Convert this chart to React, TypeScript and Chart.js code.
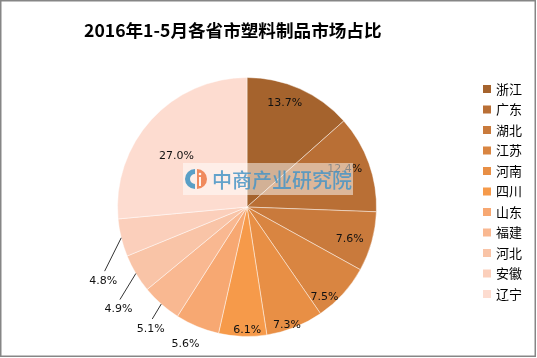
import { useEffect, useRef } from "react";
import { Chart, registerables } from "chart.js";

Chart.register(...registerables);

const provinces = ["浙江", "广东", "湖北", "江苏", "河南", "四川", "山东", "福建", "河北", "安徽", "辽宁"];
const shares = [13.7, 12.4, 7.6, 7.5, 7.3, 6.1, 5.6, 5.1, 4.9, 4.8, 27.0];
const sliceColors = [
  "#A5632D", "#B96F35", "#C97A3C", "#D98541", "#E88F45", "#F69A4A",
  "#F7A872", "#F9B891", "#F9C4A7", "#FBCFBB", "#FDDCD0",
];
const titleText = "2016年1-5月各省市塑料制品市场占比";
const watermarkText = "中商产业研究院";

const labelPlugin = {
  id: "sliceLabels",
  afterDatasetsDraw(chart: any, _args: any, opts: any) {
    const ctx = chart.ctx;
    const meta = chart.getDatasetMeta(0);
    const values = chart.data.datasets[0].data as number[];
    ctx.save();
    ctx.font = opts.font;
    ctx.fillStyle = opts.color;
    ctx.textAlign = "center";
    ctx.textBaseline = "middle";
    meta.data.forEach((arc: any, i: number) => {
      const p = arc.getProps(["x", "y", "startAngle", "endAngle", "outerRadius"], true);
      const mid = (p.startAngle + p.endAngle) / 2;
      const ang = mid + (opts.angleShift[i] * Math.PI) / 180;
      const r = p.outerRadius * opts.radius[i];
      const lx = p.x + Math.cos(ang) * r;
      const ly = p.y + Math.sin(ang) * r;
      if (opts.leader[i]) {
        ctx.beginPath();
        ctx.strokeStyle = "#333333";
        ctx.lineWidth = 1;
        ctx.moveTo(p.x + Math.cos(mid) * p.outerRadius, p.y + Math.sin(mid) * p.outerRadius);
        ctx.lineTo(lx + 1.5, ly - 10);
        ctx.stroke();
      }
      ctx.fillText(values[i].toFixed(1) + "%", lx, ly);
    });
    ctx.restore();
  },
};

const decorPlugin = {
  id: "decor",
  afterDraw(chart: any) {
    const ctx = chart.ctx;
    const labels = chart.data.labels as string[];
    const colors = chart.data.datasets[0].backgroundColor as string[];
    ctx.save();
    // watermark band
    ctx.fillStyle = "rgba(255,255,255,0.5)";
    ctx.fillRect(183, 163, 170, 32);
    // logo
    const cx = 196, cy = 179;
    ctx.fillStyle = "#5A9FC6";
    ctx.beginPath();
    ctx.arc(cx - 1, cy, 10, Math.PI / 2, (Math.PI * 3) / 2);
    ctx.arc(cx - 1, cy, 5, (Math.PI * 3) / 2, Math.PI / 2, true);
    ctx.closePath();
    ctx.fill();
    ctx.fillStyle = "#F08A5D";
    ctx.beginPath();
    ctx.arc(cx + 1, cy, 10, -Math.PI / 2, Math.PI / 2);
    ctx.closePath();
    ctx.fill();
    ctx.fillStyle = "rgba(255,255,255,0.9)";
    ctx.fillRect(cx + 3, cy - 2, 2, 9);
    ctx.beginPath();
    ctx.arc(cx + 4, cy - 5, 1.3, 0, Math.PI * 2);
    ctx.fill();
    ctx.font = "500 20px 'Noto Sans CJK SC'";
    ctx.fillStyle = "rgba(70,148,198,0.85)";
    ctx.textAlign = "left";
    ctx.textBaseline = "middle";
    ctx.fillText(watermarkText, 212, 180);

    // title
    ctx.font = "bold 17.6px 'Noto Sans CJK SC'";
    ctx.fillStyle = "#000000";
    ctx.textAlign = "left";
    ctx.textBaseline = "middle";
    ctx.fillText(titleText, 84, 30);

    // legend
    ctx.font = "13px 'Noto Sans CJK SC'";
    labels.forEach((lab, i) => {
      const y = 89 + i * 20.5;
      ctx.fillStyle = colors[i];
      ctx.fillRect(483, y - 4, 8, 8);
      ctx.fillStyle = "#000000";
      ctx.fillText(lab, 496, y);
    });

    // border
    ctx.strokeStyle = "#868686";
    ctx.lineWidth = 1.5;
    ctx.strokeRect(0.75, 0.75, 534.5, 355.5);
    ctx.restore();
  },
};

export default function App() {
  const ref = useRef<HTMLCanvasElement | null>(null);
  useEffect(() => {
    document.body.style.margin = "0";
    if (!ref.current) return;
    const chart = new Chart(ref.current, {
      type: "pie",
      data: {
        labels: provinces,
        datasets: [
          {
            data: shares,
            backgroundColor: sliceColors,
            borderColor: "rgba(255,255,255,0.45)",
            borderWidth: 1,
            hoverOffset: 0,
            offset: 0,
          },
        ],
      },
      options: {
        responsive: false,
        animation: false,
        devicePixelRatio: 1,
        layout: { padding: { top: 77, bottom: 21, left: 117, right: 160 } },
        plugins: {
          legend: { display: false },
          title: { display: false },
          tooltip: { enabled: false },
          sliceLabels: {
            font: "11px 'DejaVu Sans'",
            color: "#111111",
            radius: [0.85, 0.81, 0.83, 0.92, 0.96, 0.95, 1.16, 1.2, 1.27, 1.25, 0.67],
            angleShift: [-4.1, -1.5, 1.7, 7.2, 3, -2, 1.6, -3.2, -7.7, -13.5, -6.6],
            leader: [false, false, false, false, false, false, false, true, true, true, false],
          },
        } as any,
      },
      plugins: [labelPlugin, decorPlugin],
    });
    return () => chart.destroy();
  }, []);
  return (
    <div style={{ width: 537, height: 358, background: "#fff" }}>
      <canvas ref={ref} width={537} height={358} />
    </div>
  );
}
